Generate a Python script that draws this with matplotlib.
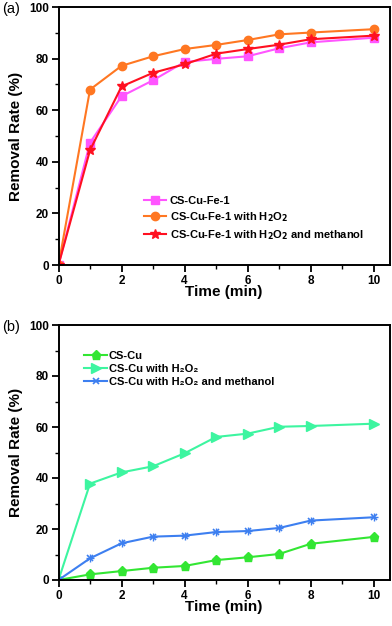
import matplotlib
matplotlib.use("Agg")
import matplotlib.pyplot as plt
from matplotlib.ticker import MultipleLocator

plt.rcParams['font.family'] = ['Liberation Sans', 'DejaVu Sans']
plt.rcParams['font.weight'] = 'bold'
plt.rcParams['mathtext.default'] = 'bf'

time = [0, 1, 2, 3, 4, 5, 6, 7, 8, 10]

a_cscufe = [0, 47.4, 65.4, 71.6, 78.7, 79.9, 80.9, 84.0, 86.3, 88.1]
a_h2o2 = [0, 68.0, 77.2, 80.9, 83.7, 85.3, 87.2, 89.4, 90.1, 91.4]
a_meoh = [0, 44.5, 69.2, 74.5, 77.8, 81.9, 83.7, 85.4, 87.5, 88.9]

b_cscu = [0, 2.2, 3.5, 4.8, 5.5, 7.8, 8.9, 10.2, 14.2, 16.9]
b_h2o2 = [0, 37.8, 42.2, 44.6, 49.7, 56.1, 57.4, 60.1, 60.4, 61.3]
b_meoh = [0, 8.5, 14.4, 17.0, 17.4, 18.8, 19.2, 20.4, 23.3, 24.6]

labels_a = ["CS-Cu-Fe-1", "CS-Cu-Fe-1 with H$_2$O$_2$", "CS-Cu-Fe-1 with H$_2$O$_2$ and methanol"]
labels_b = ["CS-Cu", "CS-Cu with H\u2082O\u2082", "CS-Cu with H\u2082O\u2082 and methanol"]

fig = plt.figure(figsize=(3.92, 6.26), dpi=100)
ax1 = fig.add_axes([58.5/392, 1-265/626, 331/392, 258/626])
ax2 = fig.add_axes([58.5/392, 1-580/626, 331/392, 255/626])

ax1.plot(time, a_cscufe, '-s', color='#FF55FF', ms=5.5, lw=1.5, label=labels_a[0])
ax1.plot(time, a_h2o2, '-o', color='#FF7722', ms=6, lw=1.5, label=labels_a[1])
ax1.plot(time, a_meoh, '-*', color='#FF1020', ms=7.5, lw=1.5, label=labels_a[2])

ax2.plot(time, b_cscu, '-p', color='#33E633', ms=6.5, lw=1.5, label=labels_b[0])
ax2.plot(time, b_h2o2, '->', color='#3DF5A0', ms=6.5, lw=1.5, label=labels_b[1])
ax2.plot(time, b_meoh, '-x', color='#3D7FF0', ms=5, lw=1.5, mew=1.2, label=labels_b[2])
ax2.plot(time[1:], b_meoh[1:], '+', color='#3D7FF0', ms=6, mew=1.0)

for ax in (ax1, ax2):
    ax.set_xlim(0, 10.5)
    ax.set_ylim(0, 100)
    ax.xaxis.set_major_locator(MultipleLocator(2))
    ax.xaxis.set_minor_locator(MultipleLocator(1))
    ax.yaxis.set_major_locator(MultipleLocator(20))
    ax.yaxis.set_minor_locator(MultipleLocator(10))
    ax.tick_params(which='major', direction='out', length=5, width=1.3, labelsize=8.5, pad=2)
    ax.tick_params(which='minor', direction='out', length=3, width=1.0)
    for s in ax.spines.values():
        s.set_linewidth(1.4)
    for lab in ax.get_xticklabels() + ax.get_yticklabels():
        lab.set_fontweight('bold')
    ax.set_xlabel("Time (min)", fontsize=11, fontweight='bold', labelpad=-1)
    ax.set_ylabel("Removal Rate (%)", fontsize=11, fontweight='bold', labelpad=4)

ax1.legend(loc='lower left', bbox_to_anchor=(0.235, 0.06), frameon=False, fontsize=8,
           handlelength=2.0, handletextpad=0.3, labelspacing=0.35, borderpad=0.2)
ax2.legend(loc='upper left', bbox_to_anchor=(0.055, 0.93), frameon=False, fontsize=8,
           handlelength=2.0, handletextpad=0.2, labelspacing=0.3, borderpad=0.2)

fig.text(2/392, 1-9/626, "(a)", fontsize=10.5, fontweight='normal', va='center', ha='left')
fig.text(2/392, 1-327/626, "(b)", fontsize=10.5, fontweight='normal', va='center', ha='left')

fig.savefig("out.png", dpi=100)
